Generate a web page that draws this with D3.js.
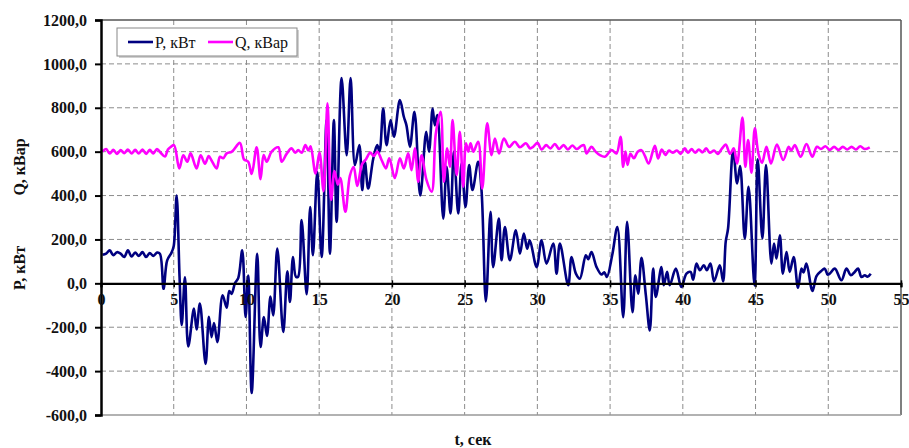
<!DOCTYPE html>
<html><head><meta charset="utf-8">
<script src="https://cdnjs.cloudflare.com/ajax/libs/d3/7.8.5/d3.min.js"></script>
<style>body{margin:0;background:#fff;} svg{display:block;} text{font-family:"Liberation Serif","Times New Roman","DejaVu Serif",serif;}</style>
</head><body>
<svg id="chart" width="909" height="448"></svg>
<script>
const xTicks = [0,5,10,15,20,25,30,35,40,45,50,55];
const yTicks = [-600,-400,-200,0,200,400,600,800,1000,1200];
const seriesNames = ["P, кВт","Q, кВар"];
const seriesColors = ["#000080","#ff00ff"];

const pT = [0.1,0.35,0.6,0.85,1.1,1.35,1.6,1.85,2.1,2.35,2.6,2.85,3.1,3.35,3.6,3.85,4.05,4.3,4.55,4.85,5.0,5.2,5.4,5.55,5.77,6.0,6.39,6.57,6.8,7.19,7.42,7.6,7.77,8.0,8.36,8.64,8.82,8.98,9.21,9.44,9.71,9.94,10.12,10.36,10.74,10.97,11.2,11.41,11.65,11.84,12.12,12.53,12.81,12.99,13.2,13.4,13.55,13.79,14.14,14.38,14.57,14.87,15.17,15.51,15.74,16.01,16.2,16.54,16.89,17.16,17.46,17.76,17.96,18.14,18.37,18.72,18.99,19.15,19.4,19.63,19.91,20.14,20.55,20.82,21.0,21.24,21.55,21.95,22.36,22.55,22.8,22.95,23.12,23.53,23.76,24.03,24.26,24.56,24.79,25.06,25.31,25.54,25.93,26.16,26.46,26.78,26.96,27.35,27.54,27.77,28.11,28.52,28.8,29.07,29.3,29.48,29.95,30.29,30.63,31.09,31.32,31.55,32.12,32.35,32.65,32.92,33.33,33.5,33.72,34.07,34.41,34.6,34.78,35.15,35.5,35.9,36.17,36.54,36.74,36.93,37.16,37.46,37.73,37.96,38.14,38.53,38.69,38.92,39.1,39.52,39.9,40.25,40.53,40.71,40.94,41.17,41.44,41.65,41.9,42.15,42.54,42.77,42.95,43.11,43.46,43.73,43.94,44.26,44.52,44.93,45.15,45.47,45.72,46.09,46.27,46.44,46.67,46.88,47.13,47.35,47.62,47.92,48.16,48.3,48.5,48.91,49.19,49.5,49.76,49.95,50.1,50.45,50.9,51.25,51.55,51.82,52.05,52.28,52.51,52.7,52.92];
const pV = [130,135,150,128,142,135,120,150,122,140,125,142,120,138,125,140,135,-25,105,140,170,400,30,-190,27,-288,-115,-210,-92,-367,-153,-245,-181,-268,-55,-111,-35,-48,0,25,150,-153,36,-500,135,-290,-154,-240,-60,-146,158,-222,55,-85,120,30,30,288,-50,348,128,508,120,744,135,744,280,935,584,935,539,630,425,554,432,569,630,600,797,630,744,668,835,759,720,622,782,400,691,600,797,720,767,295,531,318,600,318,546,348,539,425,554,425,-82,326,74,295,105,257,105,242,135,227,158,196,74,196,90,181,44,181,-9,120,44,21,128,110,143,74,40,50,29,130,257,-154,280,-131,37,-47,116,-55,-215,67,-62,74,-9,52,-9,67,-17,44,52,16,90,60,82,60,90,9,82,9,190,250,610,455,535,204,440,-10,565,204,539,90,181,113,219,44,143,52,120,-20,67,50,90,-35,33,55,67,40,44,67,14,67,37,52,67,29,37,30,44];

const qT = [0.1,0.35,0.6,0.85,1.1,1.35,1.6,1.85,2.1,2.35,2.6,2.85,3.1,3.35,3.6,3.85,4.1,4.4,4.6,4.8,5.02,5.38,5.66,5.93,6.16,6.57,6.85,7.15,7.4,7.6,7.95,8.18,8.4,8.64,9.0,9.55,9.83,10.12,10.36,10.7,10.97,11.18,11.39,11.73,12.19,12.42,12.76,13.1,13.35,13.56,13.8,14.05,14.25,14.41,14.75,15.02,15.3,15.57,15.82,16.05,16.28,16.45,16.8,17.11,17.37,17.62,17.95,18.23,18.51,18.75,19.0,19.29,19.59,19.82,20.2,20.55,20.82,21.12,21.35,21.58,21.81,22.04,22.38,22.73,23.02,23.35,23.57,23.8,23.99,24.17,24.45,24.67,24.9,25.09,25.25,25.41,25.6,25.93,26.21,26.55,26.85,27.08,27.37,27.7,28.06,28.45,28.8,29.21,29.5,29.71,30.0,30.3,30.6,30.9,31.2,31.5,31.8,32.1,32.4,32.7,33.0,33.2,33.38,33.72,34.0,34.3,34.64,35.1,35.44,35.72,35.9,36.06,36.2,36.4,36.63,36.9,37.16,37.4,37.65,38.08,38.3,38.55,38.8,39.05,39.3,39.6,39.85,40.14,40.35,40.6,40.85,41.1,41.35,41.6,41.85,42.15,42.4,42.7,42.95,43.25,43.5,43.73,44.1,44.3,44.49,44.72,44.95,45.2,45.45,45.75,46.06,46.47,46.9,47.28,47.45,47.7,48.1,48.5,48.9,49.22,49.5,49.8,50.1,50.4,50.7,51.0,51.3,51.6,51.9,52.2,52.5,52.85];
const qV = [600,612,592,608,590,607,593,610,592,608,592,610,590,608,592,612,595,578,610,622,630,524,584,554,592,524,584,545,580,560,524,577,570,592,600,640,565,554,498,620,475,585,554,600,620,554,590,615,595,607,595,630,605,625,500,596,420,820,380,512,450,480,326,490,530,444,543,567,596,580,600,562,524,570,480,570,524,592,516,615,463,584,470,417,683,782,463,615,531,744,493,691,440,638,600,638,600,645,432,729,584,660,592,660,622,645,620,638,615,622,640,610,630,615,635,612,630,610,628,612,625,630,592,622,600,584,577,607,592,668,531,600,540,590,570,600,607,580,546,627,569,610,585,605,595,605,590,615,595,612,595,610,597,615,595,605,590,615,632,590,615,546,755,531,653,504,706,590,550,622,546,632,562,622,605,630,577,635,577,622,612,625,608,622,608,622,610,622,610,625,612,620];

const svg = d3.select("#chart");
const L = 101, R = 901, T = 20, B = 415;
const x = d3.scaleLinear().domain([0,55]).range([L,R]);
const y = d3.scaleLinear().domain([-600,1200]).range([B,T]);
const serif = '"Liberation Serif","Times New Roman","DejaVu Serif",serif';

// grid
const g = svg.append("g");
g.selectAll(".hg").data(yTicks.filter(d => d !== 0 && d !== -600 && d !== 1200)).enter().append("line")
  .attr("x1", L).attr("x2", R).attr("y1", d => y(d)).attr("y2", d => y(d))
  .attr("stroke", "#8c8c8c").attr("stroke-width", 1).attr("stroke-dasharray", "5,3");
g.selectAll(".vg").data(xTicks.filter(d => d !== 0 && d !== 55)).enter().append("line")
  .attr("y1", T).attr("y2", B).attr("x1", d => x(d)).attr("x2", d => x(d))
  .attr("stroke", "#8c8c8c").attr("stroke-width", 1).attr("stroke-dasharray", "5,3");

// border
svg.append("line").attr("x1", L).attr("x2", R).attr("y1", T).attr("y2", T).attr("stroke", "#555").attr("stroke-width", 1.5);
svg.append("line").attr("x1", R).attr("x2", R).attr("y1", T).attr("y2", B).attr("stroke", "#555").attr("stroke-width", 1.5);
svg.append("line").attr("x1", L).attr("x2", R).attr("y1", B).attr("y2", B).attr("stroke", "#999").attr("stroke-width", 1.5);

// lines
const line = d3.line().x(d => x(d[0])).y(d => y(d[1])).curve(d3.curveCatmullRom.alpha(0.5));
const pData = pT.map((t,i) => [t, pV[i]]);
const qData = qT.map((t,i) => [t, qV[i]]);
svg.append("path").datum(pData).attr("d", line).attr("fill","none").attr("stroke", seriesColors[0]).attr("stroke-width", 2.6).attr("stroke-linejoin","round");
svg.append("path").datum(qData).attr("d", line).attr("fill","none").attr("stroke", seriesColors[1]).attr("stroke-width", 2.6).attr("stroke-linejoin","round");

function styleText(sel, size, bold) {
  sel.style("font-family", serif).style("font-weight", bold ? "bold" : "normal").style("font-size", size + "px").attr("fill", "#111");
}

// y axis
const yAxis = d3.axisLeft(y).tickValues(yTicks).tickSize(6).tickPadding(8)
  .tickFormat(d => d3.format(".1f")(d).replace(".", ",").replace("\u2212", "-"));
const ya = svg.append("g").attr("transform", `translate(${L},0)`).call(yAxis);
ya.attr("font-family", null).attr("font-size", null);
ya.select(".domain").attr("stroke", "#000").attr("stroke-width", 2.5);
ya.selectAll(".tick line").attr("stroke", "#000").attr("stroke-width", 2);
styleText(ya.selectAll("text"), 16, true);

// x axis at zero
const xAxis = d3.axisBottom(x).tickValues(xTicks).tickSize(4).tickPadding(6).tickFormat(d3.format("d"));
const xa = svg.append("g").attr("transform", `translate(0,${y(0)})`).call(xAxis);
xa.attr("font-family", null).attr("font-size", null);
xa.select(".domain").attr("stroke", "#000").attr("stroke-width", 2.2);
xa.selectAll(".tick line").attr("stroke", "#000").attr("stroke-width", 1.5).attr("y1", -3);
styleText(xa.selectAll("text"), 16, true);

// axis titles
styleText(svg.append("text").attr("transform", "translate(25,167) rotate(-90)").attr("text-anchor","middle").text("Q, кВар"), 16, true);
styleText(svg.append("text").attr("transform", "translate(25,268) rotate(-90)").attr("text-anchor","middle").text("P, кВт"), 16, true);
styleText(svg.append("text").attr("x", 473).attr("y", 445).attr("text-anchor","middle").text("t, сек"), 16, true);

// legend
const lg = svg.append("g");
lg.append("rect").attr("x", 119).attr("y", 30).attr("width", 180).attr("height", 28).attr("fill", "#d0d0d0");
lg.append("rect").attr("x", 117).attr("y", 28).attr("width", 180).attr("height", 28).attr("fill", "#fff").attr("stroke", "#888").attr("stroke-width", 1);
const lx = [128, 208];
seriesNames.forEach((n, i) => {
  lg.append("line").attr("x1", lx[i]).attr("x2", lx[i] + 25).attr("y1", 42).attr("y2", 42).attr("stroke", seriesColors[i]).attr("stroke-width", 2.6);
  styleText(lg.append("text").attr("x", lx[i] + 27).attr("y", 48).text(n), 16, false);
});
</script>
</body></html>
